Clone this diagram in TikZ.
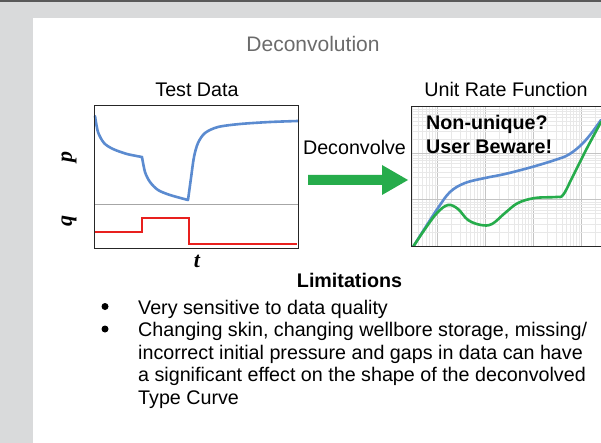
\documentclass[tikz,border=0pt]{standalone}
\usepackage{fontspec}
\setmainfont{Liberation Sans}
\newfontfamily\axisfont{Liberation Serif}
\usetikzlibrary{positioning}
\definecolor{pagegrey}{HTML}{D9DADB}
\definecolor{titlegrey}{HTML}{6B6B6B}
\definecolor{pcurve}{HTML}{5B8BD0}
\definecolor{qcurve}{HTML}{E8201E}
\definecolor{urfgreen}{HTML}{26AC4B}
\definecolor{gridmin}{HTML}{E8E8E8}
\definecolor{gridmaj}{HTML}{C4C4C4}

\begin{document}
\begin{tikzpicture}[
  x=1pt, y=-1pt,
  font=\fontsize{19.7}{22.5}\selectfont,
  lbl/.style={inner sep=0pt, anchor=base},
  axlbl/.style={inner sep=0pt, font=\fontsize{22}{22}\axisfont\bfseries\itshape},
  bullet/.style={circle, fill=black, inner sep=0pt, minimum size=7pt},
  curve/.style={line width=2.6pt, line join=round, line cap=round},
  frame/.style={line width=1pt, black!85},
  gmin/.style={gridmin, line width=0.5pt},
  gmaj/.style={gridmaj, line width=0.8pt},
]
\useasboundingbox (0,0) rectangle (601,443);
\fill[pagegrey] (0,0) rectangle (601,443);
\draw[black!65, line width=1.6pt] (0,0.8) -- (601,0.8);
\fill[white] (33,18) rectangle (601,443);

% headings
\node[lbl, font=\fontsize{21}{21}\selectfont, text=titlegrey] (title) at (313,52) {Deconvolution};
\node[lbl] (testdata) at (197,97) {Test Data};
\node[lbl] (urf) at (506,97) {Unit Rate Function};

% test data: pressure and rate
\draw[gray!70, line width=1pt] (94,205) -- (298,205);
\draw[pcurve, curve]
  plot[smooth, tension=0.5] coordinates {(95,116) (98,132) (104,143) (113,149) (127,154) (142,157)}
  -- plot[smooth, tension=0.5] coordinates {(142,157) (145,172) (150,182) (158,190) (170,195) (188,200)}
  -- plot[smooth, tension=0.5] coordinates {(188,200) (191,178) (194,157) (198,143) (205,133) (218,127) (240,124) (270,122) (298,121)};
\draw[qcurve, line width=2.2pt] (95,232) -| (142,218) -| (189,244) -- (297,244);
\draw[frame] (94,106) rectangle (298,248);
\node[axlbl, rotate=90] (plbl) at (69,157) {p};
\node[axlbl, rotate=90] (qlbl) at (69,221) {q};
\node[axlbl] (tlbl) at (197,261) {t};

% deconvolve arrow
\node[lbl] (deconv) at (354.5,155) {Deconvolve};
\fill[urfgreen] (308,175) -- (382,175) -- (382,165) -- (408,180)
  -- (382,195) -- (382,185) -- (308,185) -- cycle;

% unit rate function on log-log grid
\begin{scope}
  \clip (411,107) rectangle (601,246);
  \foreach \d in {0,...,4} {
    \foreach \k in {2,...,9}
      \draw[gmin] ({389+48*\d+48*log10(\k)},107) -- ++(0,139);
    \draw[gmaj] ({389+48*\d},107) -- ++(0,139);
  }
  \foreach \j in {0,1,2} {
    \foreach \k in {2,...,9}
      \draw[gmin] (411,{246-46.33*\j-46.33*log10(\k)}) -- ++(190,0);
    \draw[gmaj] (411,{246-46.33*\j}) -- ++(190,0);
  }
  \draw[pcurve, curve] plot[smooth, tension=0.6] coordinates {(413,247) (425,228) (438,208)
    (450,192) (465,183) (485,178) (505,174) (532,167) (555,160) (568,155) (580,146)
    (590,135) (601,120)};
  \draw[urfgreen, curve] plot[smooth, tension=0.6] coordinates {(413,247) (425,229) (437,213)
    (448,205) (458,209) (468,220) (481,225) (492,224) (505,213) (518,203) (535,198)
    (556,197) (563,195) (572,178) (586,150) (601,122)};
\end{scope}
\draw[frame] (601,107) -- (411,107) -- (411,246) -- (601,246);
\node[lbl, anchor=base west, font=\fontsize{19.7}{22.5}\selectfont\bfseries] (warn1) at (426,130) {Non-unique?};
\node[lbl, anchor=base west, font=\fontsize{19.7}{22.5}\selectfont\bfseries] (warn2) at (426,154) {User Beware!};

% limitations
\node[lbl, font=\fontsize{19.7}{22.5}\selectfont\bfseries] (limits) at (349.5,287) {Limitations};
\node[bullet] (b1) at (105,306.5) {};
\node[lbl, anchor=base west] (l1) at (138,314) {Very sensitive to data quality};
\node[bullet] (b2) at (105,329) {};
\node[lbl, anchor=base west] (l2) at (138,336.5) {Changing skin, changing wellbore storage, missing/};
\node[lbl, anchor=base west] (l3) at (138,359) {incorrect initial pressure and gaps in data can have};
\node[lbl, anchor=base west] (l4) at (138,381.5) {a significant effect on the shape of the deconvolved};
\node[lbl, anchor=base west] (l5) at (138,404) {Type Curve};
\end{tikzpicture}
\end{document}
